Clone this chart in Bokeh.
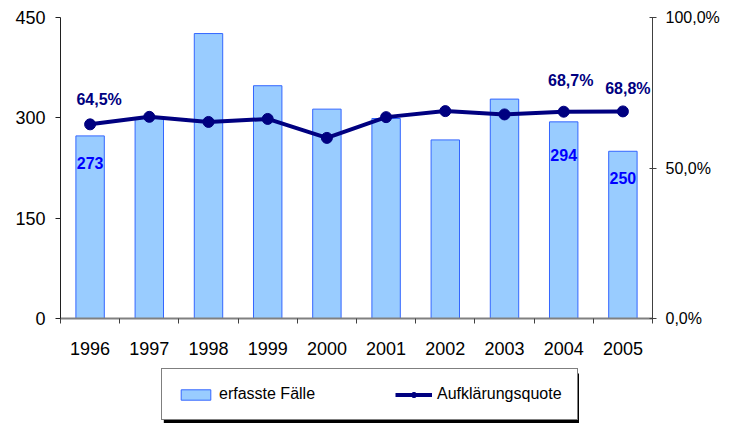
from bokeh.plotting import figure
from bokeh.models import (Range1d, LinearAxis, FixedTicker, CustomJSTickFormatter,
                          Legend, LegendItem, BoxAnnotation)
from bokeh.layouts import column
from bokeh.embed import file_html
from bokeh.resources import INLINE
from bokeh.core.properties import value

# ---- data ----
years = ["1996", "1997", "1998", "1999", "2000", "2001", "2002", "2003", "2004", "2005"]
faelle = [273, 300, 426, 348, 313, 299, 267, 328, 294, 250]
quote = [64.5, 67.0, 65.3, 66.3, 60.0, 66.9, 68.9, 67.8, 68.7, 68.8]
count_ticks = [0, 150, 300, 450]
pct_ticks = [0, 50, 100]
labeled = [0, 8, 9]
series_names = ["erfasste Fälle", "Aufklärungsquote"]

# ---- style ----
FONT = "Liberation Sans"
BAR_FILL, BAR_LINE, LINE_COL = "#99CCFF", "#3366FF", "#000080"
bar_label_dy = [27, 33, 27]
pct_label_dx = [9, 7, 5]
pct_label_dy = [-16, -23, -14]

W, H_CHART, H_LEG = 722, 362, 61
B_LEFT, B_RIGHT = 60, 66
FRAME_W = W - B_LEFT - B_RIGHT

p = figure(width=W, height=H_CHART, output_backend="svg", toolbar_location=None,
           x_range=Range1d(0, len(years)), y_range=Range1d(0, 450),
           min_border_left=B_LEFT, min_border_right=B_RIGHT, min_border_top=17,
           min_border_bottom=44, background_fill_color="white",
           border_fill_color="white")
p.outline_line_color = None
p.xgrid.visible = False
p.ygrid.visible = False
p.extra_y_ranges = {"pct": Range1d(0, 100)}

xs = [i + 0.5 for i in range(len(years))]

p.vbar(x=xs, top=faelle, width=0.48, bottom=0,
       fill_color=BAR_FILL, line_color=BAR_LINE, line_width=1)
p.line(xs, quote, y_range_name="pct", line_color=LINE_COL, line_width=4)
p.scatter(xs, quote, y_range_name="pct", size=11, color=LINE_COL)

p.text(x=[xs[i] for i in labeled], y=[faelle[i] for i in labeled],
       text=[str(faelle[i]) for i in labeled], y_offset=bar_label_dy,
       text_align="center", text_baseline="middle",
       text_font=value(FONT), text_font_style="bold",
       text_font_size="16px", text_color="#0000FF")
p.text(x=[xs[i] for i in labeled], y=[quote[i] for i in labeled],
       text=[f"{quote[i]:.1f}".replace(".", ",") + "%" for i in labeled],
       x_offset=pct_label_dx, y_offset=pct_label_dy, y_range_name="pct",
       text_align="center", text_baseline="bottom",
       text_font=value(FONT), text_font_style="bold",
       text_font_size="16px", text_color=LINE_COL)

# axes
xa = p.xaxis[0]
xa.ticker = FixedTicker(ticks=xs, minor_ticks=list(range(len(years) + 1)))
xa.major_label_overrides = {x: y for x, y in zip(xs, years)}
xa.major_tick_line_color = None
xa.major_tick_out = 0
xa.minor_tick_out = 5
xa.minor_tick_in = 0
xa.minor_tick_line_color = "#404040"
xa.axis_line_color = "#808080"
xa.axis_line_width = 2
xa.major_label_standoff = 18
xa.major_label_text_font = FONT
xa.major_label_text_font_size = "18px"
xa.major_label_text_color = "black"

ya = p.yaxis[0]
ya.ticker = FixedTicker(ticks=count_ticks)
ya.minor_tick_line_color = None
ya.major_tick_out = 5
ya.major_tick_in = 0
ya.axis_line_color = "#202020"
ya.major_tick_line_color = "#202020"
ya.major_label_standoff = 10
ya.major_label_text_font = FONT
ya.major_label_text_font_size = "18px"
ya.major_label_text_color = "black"

ra = LinearAxis(y_range_name="pct", ticker=FixedTicker(ticks=pct_ticks),
                formatter=CustomJSTickFormatter(
                    code="return tick.toFixed(1).replace('.', ',') + '%';"))
ra.minor_tick_line_color = None
ra.major_tick_out = 4
ra.major_tick_in = 3
ra.axis_line_color = "#404040"
ra.major_tick_line_color = "#404040"
ra.major_label_standoff = 9
ra.major_label_text_font = FONT
ra.major_label_text_font_size = "16px"
ra.major_label_text_color = "black"
p.add_layout(ra, "right")

# ---- legend strip (separate figure so the legend box can sit below the axis) ----
lg = figure(width=W, height=H_LEG, output_backend="svg", toolbar_location=None,
            x_range=Range1d(0, FRAME_W), y_range=Range1d(0, H_LEG),
            x_axis_location=None, y_axis_location=None,
            min_border_left=B_LEFT, min_border_right=B_RIGHT,
            min_border_top=0, min_border_bottom=0,
            background_fill_color="white", border_fill_color="white")
lg.outline_line_color = None
lg.xgrid.visible = False
lg.ygrid.visible = False

# drop shadow of the legend box
lg.add_layout(BoxAnnotation(left=104, right=522, bottom=0, top=50,
                            fill_color="black", fill_alpha=1, line_color=None))

# legend proxies: same series, not drawn themselves (only their legend glyphs)
r_bar = lg.vbar(x=xs, top=faelle, width=0.48, visible=False,
                fill_color=BAR_FILL, line_color=BAR_LINE)
r_line = lg.line(xs, quote, visible=False, line_color=LINE_COL, line_width=4)
r_pts = lg.scatter(xs, quote, visible=False, size=11, color=LINE_COL)

legend = Legend(items=[LegendItem(label=series_names[0], renderers=[r_bar]),
                       LegendItem(label=series_names[1], renderers=[r_line, r_pts])],
                orientation="horizontal", location=(101, 3))
legend.margin = 0
legend.border_line_color = "black"
legend.border_line_width = 1
legend.background_fill_color = "white"
legend.background_fill_alpha = 1
legend.padding = 15
legend.spacing = 66
legend.glyph_width = 37
legend.glyph_height = 13
legend.label_standoff = 5
legend.label_width = 110
legend.label_height = 20
legend.label_text_font = FONT
legend.label_text_font_size = "16px"
legend.label_text_color = "black"
lg.add_layout(legend, "center")

layout = column(p, lg, spacing=0)
open("out.html", "w").write(file_html(layout, INLINE))
